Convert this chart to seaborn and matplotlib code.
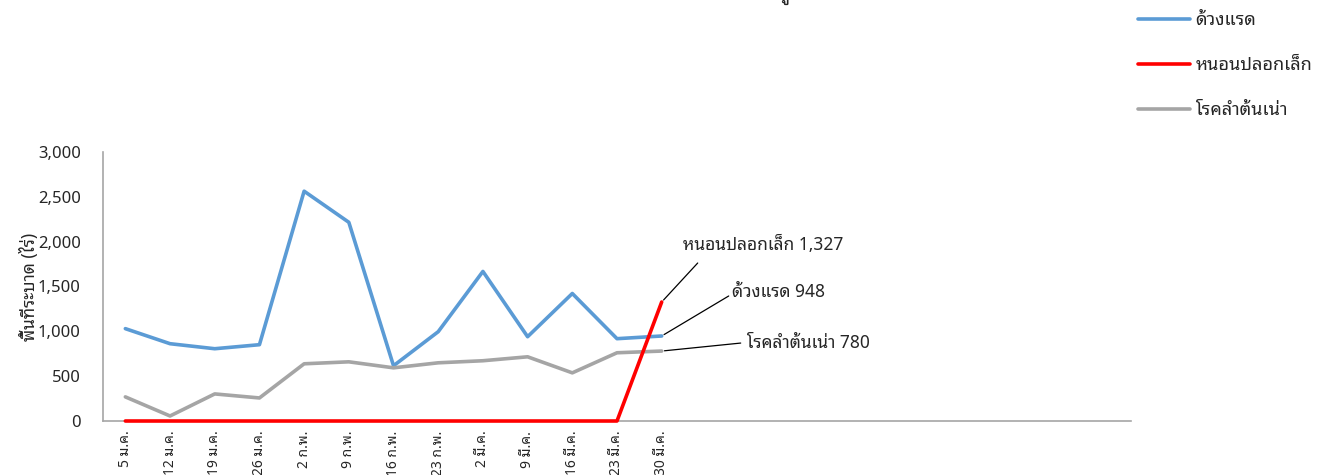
import numpy as np
import pandas as pd
import matplotlib
matplotlib.use('Agg')
import matplotlib.pyplot as plt
import matplotlib.ticker as mticker
import seaborn as sns

# ข้อมูลพื้นที่ระบาด (ไร่) รายสัปดาห์
weeks = ['5 ม.ค.', '12 ม.ค.', '19 ม.ค.', '26 ม.ค.', '2 ก.พ.', '9 ก.พ.', '16 ก.พ.',
         '23 ก.พ.', '2 มี.ค.', '9 มี.ค.', '16 มี.ค.', '23 มี.ค.', '30 มี.ค.']
n_slots = 23  # แกน x มีช่องว่างต่อท้าย
beetle = [1030, 862, 806, 851, 2563, 2216, 616, 996, 1668, 940, 1422, 918, 948]
worm = [0, 0, 0, 0, 0, 0, 0, 0, 0, 0, 0, 0, 1327]
rot = [269, 56, 302, 257, 638, 660, 593, 649, 672, 716, 537, 761, 780]
names = ['ด้วงแรด', 'หนอนปลอกเล็ก', 'โรคลำต้นเน่า']
colors = ['#5B9BD5', '#FF0000', '#A5A5A5']
title = 'สถานการณ์การระบาดศัตรูพืช'

sns.set_theme(style='white')
plt.rcParams['font.family'] = ['Noto Sans Thai Looped', 'DejaVu Sans']

fig = plt.figure(figsize=(13.2, 4.75), dpi=100)
ax = fig.add_axes([103/1320, 1-421/475, 1028/1320, 269/475])

df = pd.DataFrame({'week': weeks * 3,
                   'area': beetle + worm + rot,
                   'pest': [names[0]] * 13 + [names[1]] * 13 + [names[2]] * 13})
sns.lineplot(data=df, x='week', y='area', hue='pest', hue_order=names, palette=colors,
             linewidth=2.6, sort=False, ax=ax)
for ln in ax.lines:
    ln.set_clip_on(False)
ax.lines[1].set_zorder(5)

ax.set_xlim(-0.5, n_slots - 0.5)
ax.set_xticks(range(n_slots))
ax.set_xticklabels(weeks + [''] * (n_slots - len(weeks)), rotation=90, fontsize=10, va='top')
ax.set_ylim(0, 3000)
ax.set_yticks(range(0, 3001, 500))
ax.yaxis.set_major_formatter(mticker.FuncFormatter(lambda v, p: f'{int(v):,}'))
ax.tick_params(axis='y', labelsize=12, pad=16, length=0)
ax.tick_params(axis='x', pad=7, length=0)
ax.set_xlabel('')
ax.set_ylabel('พื้นที่ระบาด (ไร่)', fontsize=12.5, fontweight='bold', labelpad=-1)
for s in ['top', 'right']:
    ax.spines[s].set_visible(False)
for s in ['left', 'bottom']:
    ax.spines[s].set_color('#A6A6A6')
    ax.spines[s].set_linewidth(1.2)

# legend มุมขวาบน
handles, labels = ax.get_legend_handles_labels()
ax.legend(handles, labels, loc='upper left', bbox_to_anchor=(1129/1320, 1 - 2/475),
          bbox_transform=fig.transFigure, frameon=False, fontsize=13,
          handlelength=2.9, handletextpad=0.28, labelspacing=1.5, borderpad=0)

# ป้ายค่าล่าสุด
last = len(weeks) - 1
line_kw = dict(arrowstyle='-', color='black', lw=0.9, shrinkA=0, shrinkB=2)
ax.annotate('', xy=(last, worm[last]), xytext=(36, 39), textcoords='offset pixels', arrowprops=line_kw)
ax.annotate(f'{names[1]} {worm[last]:,}', xy=(last, worm[last]), xytext=(21, 57),
            textcoords='offset pixels', va='center', ha='left', fontsize=12.5)
ax.annotate('', xy=(last, beetle[last]), xytext=(67, 40), textcoords='offset pixels', arrowprops=line_kw)
ax.annotate(f'{names[0]} {beetle[last]:,}', xy=(last, beetle[last]), xytext=(70, 44),
            textcoords='offset pixels', va='center', ha='left', fontsize=12.5)
ax.annotate('', xy=(last, rot[last]), xytext=(79, 8), textcoords='offset pixels', arrowprops=line_kw)
ax.annotate(f'{names[2]} {rot[last]:,}', xy=(last, rot[last]), xytext=(85, 8),
            textcoords='offset pixels', va='center', ha='left', fontsize=12.5)

# ชื่อกราฟ (ถูกตัดขอบบน เห็นเพียงสระล่าง)
r = fig.canvas.get_renderer()
probe = fig.text(0, 0, title[:title.index('ู') + 1], fontsize=14, fontweight='bold')
pw = probe.get_window_extent(r).width
probe.remove()
fig.text((791 - pw) / 1320, 1 + 1/475, title, fontsize=14, fontweight='bold',
         ha='left', va='baseline')

fig.savefig('out.png', dpi=100)
